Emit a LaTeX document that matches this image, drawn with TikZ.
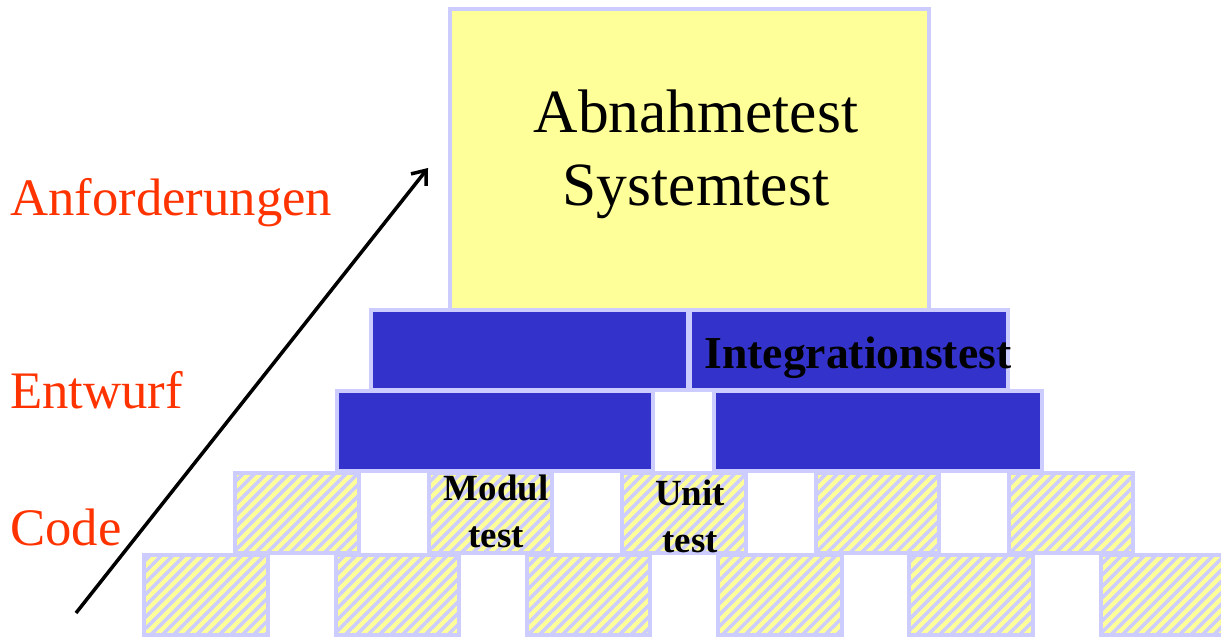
\documentclass[tikz,border=0pt]{standalone}
\usepackage{fontspec}
\setmainfont{Liberation Serif}
\usetikzlibrary{arrows.meta,patterns.meta}

\definecolor{lavender}{HTML}{CCCCFF}
\definecolor{testblue}{HTML}{3333CC}
\definecolor{paleyellow}{HTML}{FFFF99}
\definecolor{levelred}{HTML}{FF3300}

\tikzset{
  wall/.style={draw=lavender, line width=0.08cm, inner sep=0pt, outer sep=0pt},
  brick/.style={wall, minimum width=2.48cm, minimum height=1.6cm,
    preaction={fill=paleyellow},
    pattern={Lines[angle=45,distance=4.6pt,line width=2pt]}, pattern color=lavender},
  slab/.style={wall, fill=testblue, minimum height=1.6cm},
  lvl/.style={text=levelred, anchor=base west, inner sep=0pt, font=\fontsize{30}{36}\selectfont},
  tag/.style={anchor=base, align=center, inner sep=0pt, font=\bfseries\fontsize{21}{26.7}\selectfont},
}

\begin{document}
\begin{tikzpicture}[x=0.02cm, y=-0.02cm]
      \useasboundingbox (0,0) rectangle (1221,637);
      % top box
      \draw
        (689.5,159.5) node[wall, fill=paleyellow, minimum width=9.58cm, minimum height=6.02cm] (sys){};
      % blue levels
      \draw
        (529.5,350) node[slab, minimum width=6.34cm] (i1){}
        (849,350) node[slab, minimum width=6.36cm] (i2){}
        (495,431) node[slab, minimum width=6.32cm] (e1){}
        (878,431) node[slab, minimum width=6.56cm] (e2){};
      % code bricks
      \draw
        (297,513) node[brick] (c1){}
        (490.5,513) node[brick] (c2){}
        (684,513) node[brick] (c3){}
        (877.5,513) node[brick] (c4){}
        (1071,513) node[brick] (c5){}
        (206,595) node[brick] (b1){}
        (397.5,595) node[brick] (b2){}
        (588.5,595) node[brick] (b3){}
        (780,595) node[brick] (b4){}
        (971,595) node[brick] (b5){}
        (1162.5,595) node[brick] (b6){};
      % labels
      \draw
        (696,205) node[anchor=base, align=center, inner sep=0pt, font=\fontsize{35}{41}\selectfont] (acc){Abnahmetest\\Systemtest}
        (704,368) node[anchor=base west, inner sep=0pt, font=\bfseries\fontsize{26}{30}\selectfont] (integ){Integrationstest}
        (496,547) node[tag] (modul){Modul\\test}
        (690,552) node[tag] (unit){Unit\\test}
        (10,215) node[lvl] (req){Anforderungen}
        (10,408) node[lvl] (design){Entwurf}
        (10,545) node[lvl] (code){Code};
      \coordinate (lo) at (76,613);
      \coordinate (hi) at (428,168);
      \draw[line width=2pt, -{Straight Barb[length=7pt,width=11pt]}] (lo) -- (hi);
    \end{tikzpicture}
\end{document}
